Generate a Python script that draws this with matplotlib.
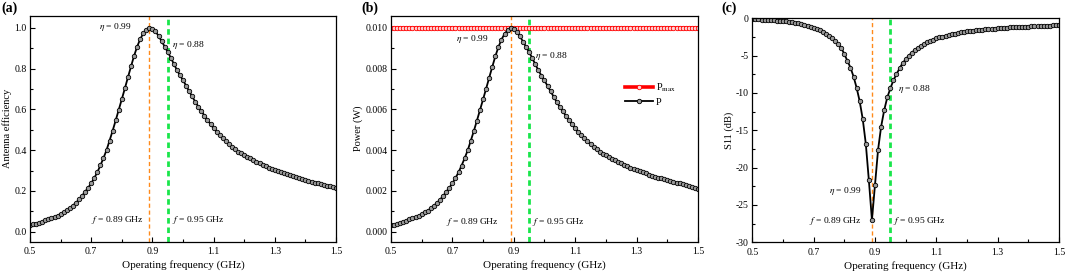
import numpy as np
import matplotlib

matplotlib.use("Agg")
import matplotlib.pyplot as plt
from matplotlib.ticker import MultipleLocator, FixedLocator

plt.rcParams["font.family"] = ["Liberation Serif", "DejaVu Serif"]
plt.rcParams["mathtext.fontset"] = "stix"

# frequency grid of the simulation (GHz), 0.01 GHz step
freq = np.linspace(0.5, 1.5, 101)
x_ticks = [0.5, 0.7, 0.9, 1.1, 1.3, 1.5]

# antenna efficiency
efficiency = [
    0.033, 0.036, 0.040, 0.044, 0.050, 0.055, 0.061, 0.066, 0.072, 0.079,
    0.087, 0.095, 0.104, 0.115, 0.128, 0.142, 0.158, 0.176, 0.196, 0.216,
    0.237, 0.263, 0.292, 0.325, 0.361, 0.400, 0.447, 0.495, 0.546, 0.598,
    0.650, 0.703, 0.757, 0.810, 0.862, 0.907, 0.944, 0.972, 0.990, 0.999,
    0.996, 0.982, 0.960, 0.934, 0.908, 0.882, 0.853, 0.823, 0.793, 0.767,
    0.743, 0.716, 0.689, 0.663, 0.637, 0.613, 0.591, 0.569, 0.548, 0.527,
    0.507, 0.491, 0.475, 0.459, 0.444, 0.430, 0.417, 0.404, 0.392, 0.384,
    0.376, 0.367, 0.359, 0.351, 0.343, 0.336, 0.328, 0.321, 0.314, 0.308,
    0.302, 0.296, 0.291, 0.286, 0.281, 0.276, 0.271, 0.266, 0.262, 0.257,
    0.253, 0.249, 0.245, 0.241, 0.237, 0.233, 0.229, 0.225, 0.222, 0.218,
    0.212,
]

# received power, W
power = [
    0.00030, 0.00034, 0.00038, 0.00043, 0.00048, 0.00054, 0.00060, 0.00065, 0.00071, 0.00078,
    0.00086, 0.00094, 0.00103, 0.00114, 0.00127, 0.00141, 0.00157, 0.00175, 0.00195, 0.00215,
    0.00236, 0.00262, 0.00291, 0.00324, 0.00360, 0.00399, 0.00446, 0.00494, 0.00545, 0.00597,
    0.00649, 0.00702, 0.00756, 0.00809, 0.00861, 0.00906, 0.00943, 0.00971, 0.00989, 0.00998,
    0.00995, 0.00981, 0.00959, 0.00933, 0.00907, 0.00881, 0.00852, 0.00822, 0.00792, 0.00766,
    0.00742, 0.00715, 0.00688, 0.00662, 0.00636, 0.00612, 0.00590, 0.00568, 0.00547, 0.00526,
    0.00506, 0.00490, 0.00474, 0.00458, 0.00443, 0.00429, 0.00416, 0.00403, 0.00391, 0.00383,
    0.00375, 0.00366, 0.00358, 0.00350, 0.00342, 0.00335, 0.00327, 0.00320, 0.00313, 0.00307,
    0.00301, 0.00295, 0.00290, 0.00285, 0.00280, 0.00275, 0.00270, 0.00265, 0.00261, 0.00256,
    0.00252, 0.00248, 0.00244, 0.00240, 0.00236, 0.00232, 0.00228, 0.00224, 0.00220, 0.00216,
    0.00207,
]
P_MAX = 0.010

# S11, dB
s11 = [
    -0.13, -0.14, -0.15, -0.17, -0.19, -0.21, -0.24, -0.27, -0.30, -0.34,
    -0.38, -0.43, -0.48, -0.54, -0.61, -0.69, -0.78, -0.88, -0.99, -1.12,
    -1.26, -1.42, -1.60, -1.81, -2.05, -2.33, -2.65, -3.02, -3.45, -3.95,
    -4.8, -5.7, -6.6, -7.8, -9.3, -11.1, -13.5, -16.8, -21.7, -27.0,
    -22.3, -17.6, -14.5, -12.3, -10.6, -9.4, -8.3, -7.5, -6.7, -6.0,
    -5.5, -5.0, -4.6, -4.25, -3.95, -3.68, -3.44, -3.22, -3.03, -2.85,
    -2.70, -2.56, -2.44, -2.33, -2.22, -2.13, -2.04, -1.96, -1.89, -1.82,
    -1.76, -1.70, -1.65, -1.60, -1.55, -1.51, -1.47, -1.43, -1.40, -1.37,
    -1.34, -1.31, -1.28, -1.25, -1.23, -1.20, -1.18, -1.16, -1.14, -1.12,
    -1.10, -1.08, -1.06, -1.04, -1.03, -1.01, -0.99, -0.98, -0.96, -0.95,
    -0.93,
]

f_peak = 0.89
f_op = 0.95

curve_style = dict(color="black", lw=1.3, marker="o", ms=3.2,
                   mfc="#9a9a9a", mec="black", mew=0.6)


def style_axes(ax):
    ax.set_xlim(0.5, 1.5)
    ax.xaxis.set_major_locator(FixedLocator(x_ticks))
    ax.xaxis.set_minor_locator(MultipleLocator(0.1))
    ax.tick_params(which="both", direction="in", labelsize=7, width=0.8)
    ax.tick_params(axis="x", pad=4)
    ax.tick_params(axis="y", pad=2.5)
    ax.tick_params(which="major", length=3.5)
    ax.tick_params(which="minor", length=2)
    for sp in ax.spines.values():
        sp.set_linewidth(0.9)
    ax.set_xlabel("Operating frequency (GHz)", fontsize=8, labelpad=3)


def vlines(ax):
    ax.axvline(f_peak, color="#ff8a1a", lw=1.0, ls=(0, (3, 2)), zorder=1)
    ax.axvline(f_op, color="#19e64b", lw=2.0, ls=(0, (2, 1.4)), zorder=1)


fig = plt.figure(figsize=(10.65, 2.75), dpi=100)
ax1 = fig.add_axes([0.0282, 0.1211, 0.2873, 0.8218])
ax2 = fig.add_axes([0.3671, 0.1211, 0.2883, 0.8218])
ax3 = fig.add_axes([0.7064, 0.1189, 0.2880, 0.8146])

# panel letters
for x_px, label in [(1, "(a)"), (361, "(b)"), (721, "(c)")]:
    fig.text(x_px / 1065, 1 - 8 / 275, label, fontsize=10, fontweight="bold",
             ha="left", va="center")

# (a) antenna efficiency
vlines(ax1)
ax1.plot(freq, efficiency, **curve_style)
ax1.set_ylim(-0.049, 1.059)
ax1.yaxis.set_major_locator(MultipleLocator(0.2))
ax1.yaxis.set_minor_locator(MultipleLocator(0.1))
ax1.set_ylabel("Antenna efficiency", fontsize=7.5, labelpad=1.5)
style_axes(ax1)
ax1.text(0.78, 1.005, r"$\eta$ = 0.99", fontsize=6.8, ha="center", va="center")
ax1.text(1.018, 0.915, r"$\eta$ = 0.88", fontsize=6.8, ha="center", va="center")
ax1.text(0.785, 0.057, r"$f$ = 0.89 GHz", fontsize=6.8, ha="center", va="center")
ax1.text(1.05, 0.057, r"$f$ = 0.95 GHz", fontsize=6.8, ha="center", va="center")

# (b) power
vlines(ax2)
ax2.plot(freq, [P_MAX] * len(freq), color="red", lw=2.6, marker="o", ms=3.2,
         mfc="#ffd6d6", mec="red", mew=0.6, label=r"P$_{\mathrm{max}}$")
ax2.plot(freq, power, label="P", **curve_style)
ax2.set_ylim(-0.0005, 0.0106)
ax2.yaxis.set_major_locator(MultipleLocator(0.002))
ax2.yaxis.set_minor_locator(MultipleLocator(0.001))
ax2.yaxis.set_major_formatter(matplotlib.ticker.FormatStrFormatter("%.3f"))
ax2.set_ylabel("Power (W)", fontsize=7.5, labelpad=1.5)
style_axes(ax2)
ax2.text(0.765, 0.00948, r"$\eta$ = 0.99", fontsize=6.8, ha="center", va="center")
ax2.text(1.023, 0.00861, r"$\eta$ = 0.88", fontsize=6.8, ha="center", va="center")
ax2.text(0.767, 0.00049, r"$f$ = 0.89 GHz", fontsize=6.8, ha="center", va="center")
ax2.text(1.045, 0.00049, r"$f$ = 0.95 GHz", fontsize=6.8, ha="center", va="center")
ax2.legend(loc="upper left", bbox_to_anchor=(0.74, 0.74), frameon=False,
           fontsize=7.5, handlelength=2.6, borderpad=0.2, labelspacing=0.3,
           handletextpad=0.3)

# (c) S11
vlines(ax3)
ax3.plot(freq, s11, **curve_style)
ax3.set_ylim(-30, 0)
ax3.yaxis.set_major_locator(MultipleLocator(5))
ax3.yaxis.set_minor_locator(MultipleLocator(2.5))
ax3.yaxis.set_major_formatter(matplotlib.ticker.FuncFormatter(
    lambda v, p: "%d" % v if v >= 0 else "-%d" % abs(v)))
ax3.set_ylabel("S11 (dB)", fontsize=7.5, labelpad=1.5)
style_axes(ax3)
ax3.text(1.027, -9.5, r"$\eta$ = 0.88", fontsize=6.8, ha="center", va="center")
ax3.text(0.802, -23.1, r"$\eta$ = 0.99", fontsize=6.8, ha="center", va="center")
ax3.text(0.772, -27.2, r"$f$ = 0.89 GHz", fontsize=6.8, ha="center", va="center")
ax3.text(1.046, -27.2, r"$f$ = 0.95 GHz", fontsize=6.8, ha="center", va="center")

fig.savefig("out.png", dpi=100)
